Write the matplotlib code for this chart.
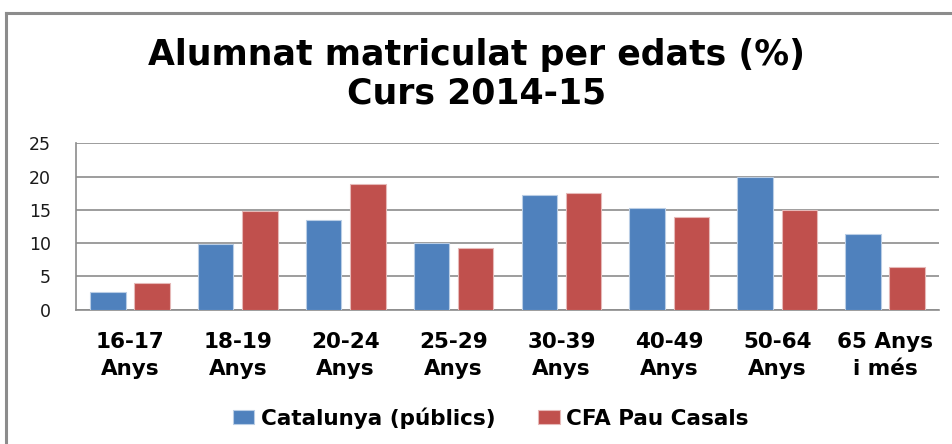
import numpy as np
import matplotlib.pyplot as plt
from matplotlib.lines import Line2D

categories = ['16-17\nAnys', '18-19\nAnys', '20-24\nAnys', '25-29\nAnys',
              '30-39\nAnys', '40-49\nAnys', '50-64\nAnys', '65 Anys\ni més']
catalunya = [2.65, 9.8, 13.4, 10.0, 17.2, 15.2, 19.9, 11.4]
pau_casals = [3.95, 14.75, 18.95, 9.2, 17.55, 13.85, 14.95, 6.35]
series_names = ['Catalunya (públics)', 'CFA Pau Casals']

plt.rcParams['font.family'] = ['DejaVu Sans']

fig = plt.figure(figsize=(9.53, 4.44), dpi=100)
W, H = 953, 444
ax = fig.add_axes([76 / W, 1 - 309.5 / H, (939 - 76) / W, (309.5 - 143.3) / H])

x = np.arange(len(categories))
w = 0.33
ax.bar(x - 0.205, catalunya, w, color='#4F81BD', edgecolor='#B9CDE5', linewidth=0.8,
       label=series_names[0], zorder=3)
ax.bar(x + 0.205, pau_casals, w, color='#C0504D', edgecolor='#E6B9B8', linewidth=0.8,
       label=series_names[1], zorder=3)

ax.set_xlim(-0.5, len(categories) - 0.5)
ax.set_ylim(0, 25)
ax.set_yticks([0, 5, 10, 15, 20, 25])
ax.yaxis.grid(True, color='#8C8C8C', linewidth=1.2, zorder=0)
ax.set_axisbelow(True)
for s in ['top', 'right']:
    ax.spines[s].set_visible(False)
for s in ['left', 'bottom']:
    ax.spines[s].set_color('#8C8C8C')
    ax.spines[s].set_linewidth(1.2)
ax.tick_params(axis='y', length=0, labelsize=12.5, pad=18, labelcolor='#1a1a1a')
ax.tick_params(axis='x', length=0, pad=16)
ax.set_xticks(x)
ax.set_xticklabels(categories, fontsize=15.5, fontweight='bold', linespacing=1.45)

fig.text(0.5, 1 - 55 / H, 'Alumnat matriculat per edats (%)', ha='center', va='center',
         fontsize=25, fontweight='bold')
fig.text(0.5, 1 - 93 / H, 'Curs 2014-15', ha='center', va='center',
         fontsize=25, fontweight='bold')

leg = fig.legend(loc='center', bbox_to_anchor=(0.515, 1 - 418 / H), ncol=2, frameon=False,
                 prop={'size': 15.5, 'weight': 'bold'}, handlelength=1.0, handleheight=0.6,
                 handletextpad=0.3, columnspacing=2.0)

# outer chart frame
fig.add_artist(Line2D([6 / W, 6 / W], [0, 1 - 13 / H], color='#8C8C8C', linewidth=2.2,
                      transform=fig.transFigure))
fig.add_artist(Line2D([6 / W, 1], [1 - 13 / H, 1 - 13 / H], color='#8C8C8C', linewidth=2.2,
                      transform=fig.transFigure))

fig.savefig('out.png', dpi=100)
